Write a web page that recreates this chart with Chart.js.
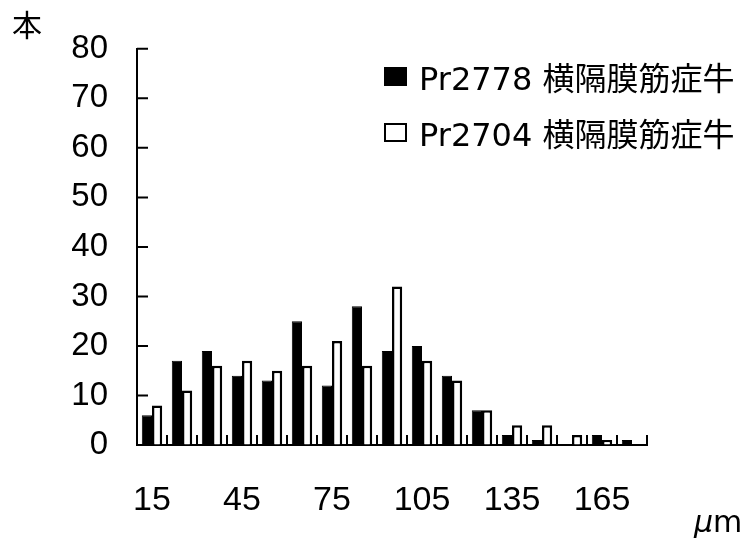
<!DOCTYPE html>
<html>
<head>
<meta charset="utf-8">
<script src="https://cdn.jsdelivr.net/npm/chart.js@4"></script>
<style>
  html, body { margin: 0; padding: 0; background: #fff; }
  #wrap { position: relative; width: 753px; height: 539px; }
  canvas { position: absolute; left: 0; top: 0; }
  .lbl { position: absolute; font-family: "DejaVu Sans", "Noto Sans CJK JP", sans-serif; color: #000; white-space: nowrap; }
  .legend-row { position: absolute; left: 384px; height: 36px; display: flex; align-items: center; }
  .swatch { width: 19px; height: 15px; border: 2px solid #000; margin-right: 12px; }
  .legend-row span { font-size: 32px; font-family: "DejaVu Sans", "Noto Sans CJK JP", sans-serif; }
</style>
</head>
<body>
<div id="wrap">
  <canvas id="c" width="753" height="539"></canvas>
  <div class="lbl" style="left:12px; top:1px; font-size:30px; font-family:'Noto Sans CJK JP', sans-serif;">本</div>
  <div class="lbl" style="left:694px; top:504px; font-size:30px;"><i>μ</i>m</div>
  <div id="legend"></div>
</div>
<script>
  // ---- données ----
  const sizes = ["15", "25", "35", "45", "55", "65", "75", "85", "95", "105", "115", "125", "135", "145", "155", "165", "175"];
  const shownTicks = ["15", "45", "75", "105", "135", "165"];
  const pr2778 = [6, 17, 19, 14, 13, 25, 12, 28, 19, 20, 14, 7, 2, 1, 0, 2, 1];
  const pr2704 = [8, 11, 16, 17, 15, 16, 21, 16, 32, 17, 13, 7, 4, 4, 2, 1, 0];
  const label1 = "Pr2778 横隔膜筋症牛";
  const label2 = "Pr2704 横隔膜筋症牛";

  const FONT = "'Liberation Sans', 'Noto Sans CJK JP', sans-serif";

  // légende HTML (vrai texte)
  const legendEl = document.getElementById("legend");
  [[label1, "#000", 58], [label2, "#fff", 114]].forEach(([txt, fill, top]) => {
    const row = document.createElement("div");
    row.className = "legend-row";
    row.style.top = top + "px";
    row.innerHTML = `<div class="swatch" style="background:${fill}"></div><span>${txt}</span>`;
    legendEl.appendChild(row);
  });

  // petits traits : vers l'intérieur sur Y, vers le haut entre les classes sur X
  const innerTicks = {
    id: "innerTicks",
    afterDatasetsDraw(chart) {
      const { ctx, chartArea, scales } = chart;
      ctx.save();
      ctx.strokeStyle = "#000";
      ctx.lineWidth = 2;
      ctx.beginPath();
      scales.y.ticks.forEach((t, i) => {
        const y = scales.y.getPixelForTick(i);
        ctx.moveTo(chartArea.left, y);
        ctx.lineTo(chartArea.left + 11, y);
      });
      const half = (scales.x.getPixelForValue(1) - scales.x.getPixelForValue(0)) / 2;
      for (let i = 0; i < sizes.length; i++) {
        const x = scales.x.getPixelForValue(i) + half;
        ctx.moveTo(x, chartArea.bottom);
        ctx.lineTo(x, chartArea.bottom - 10);
      }
      ctx.stroke();
      ctx.restore();
    }
  };

  new Chart(document.getElementById("c"), {
    type: "bar",
    data: {
      labels: sizes,
      datasets: [
        { label: label1, data: pr2778, backgroundColor: "#000", borderColor: "#000", borderWidth: 1 },
        { label: label2, data: pr2704, backgroundColor: "#fff", borderColor: "#000", borderWidth: 2.5 }
      ]
    },
    options: {
      responsive: false,
      animation: false,
      layout: { padding: { left: 0, top: 40, right: 106, bottom: 0 } },
      datasets: { bar: { categoryPercentage: 0.68, barPercentage: 1.0 } },
      plugins: { legend: { display: false }, tooltip: { enabled: false } },
      scales: {
        x: {
          grid: { display: true, drawOnChartArea: false, drawTicks: false },
          border: { color: "#000", width: 2 },
          ticks: {
            autoSkip: false,
            maxRotation: 0,
            padding: 35,
            color: "#000",
            font: { family: FONT, size: 34 },
            callback: (v, i) => shownTicks.includes(sizes[i]) ? sizes[i] : ""
          },
          afterFit: (s) => { s.height = 94; }
        },
        y: {
          min: 0, max: 80,
          grid: { display: true, drawOnChartArea: false, drawTicks: false },
          border: { color: "#000", width: 2 },
          ticks: {
            stepSize: 10,
            padding: 29,
            color: "#000",
            font: { family: FONT, size: 33 }
          },
          afterFit: (s) => { s.width = 137; }
        }
      }
    },
    plugins: [innerTicks]
  });
</script>
</body>
</html>
